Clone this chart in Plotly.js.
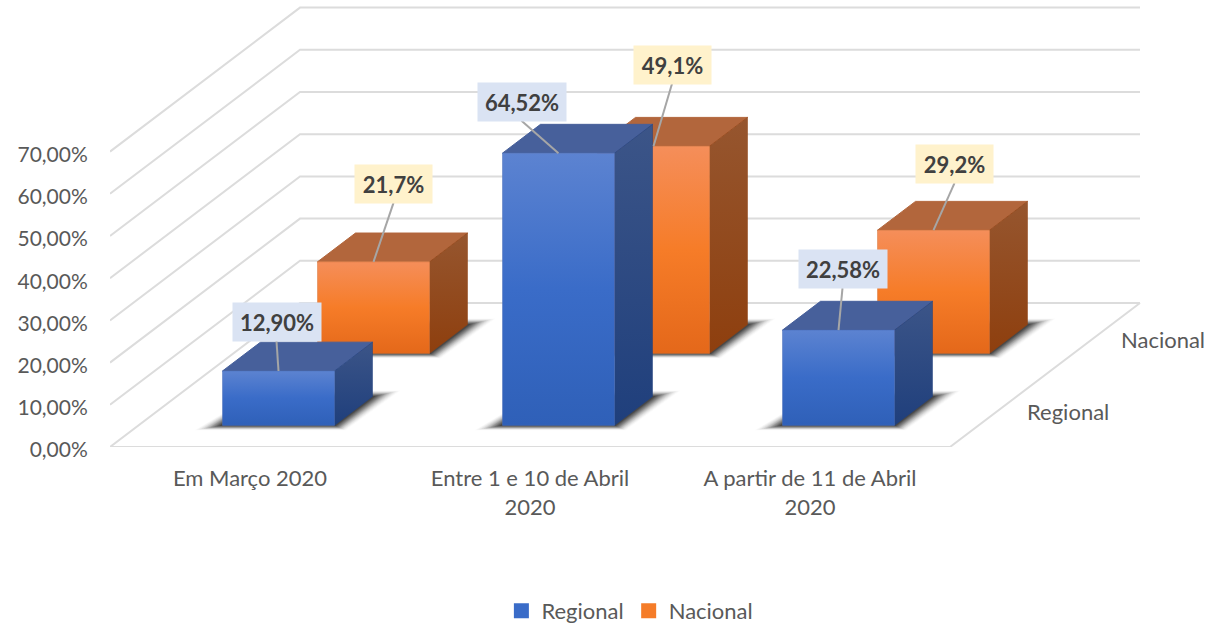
<!DOCTYPE html>
<html><head><meta charset="utf-8">
<script src="https://cdn.plot.ly/plotly-3.0.1.min.js"></script>
<style>html,body{margin:0;padding:0;background:#fff;overflow:hidden}#c{width:1216px;height:625px}</style>
</head><body><div id="c"></div>
<script>
// ---- data ----
const categories = ['Em Março 2020', 'Entre 1 e 10 de Abril<br>2020', 'A partir de 11 de Abril<br>2020'];
const regionalValues = [12.90, 64.52, 22.58];
const nacionalValues = [21.7, 49.1, 29.2];
const regionalLabels = ['12,90%', '64,52%', '22,58%'];
const nacionalLabels = ['21,7%', '49,1%', '29,2%'];
const seriesNames = ['Regional', 'Nacional'];
const yTickValues = [0, 10, 20, 30, 40, 50, 60, 70];
const yTickLabels = ['0,00%', '10,00%', '20,00%', '30,00%', '40,00%', '50,00%', '60,00%', '70,00%'];

// ---- oblique projection (axis units) ----
const W = 1216, H = 625, L = 110, FLOOR = 447;
const PX_X = 280, PX_Y = 4.22;               // px per category, px per percent
const DX = 95 / PX_X, DY = 72 / PX_Y;        // shift per depth row
const BAR = 0.4, FRONT = 0.3, BACK = 0.7;    // bar width and depth span
const P = (c, v, d) => [c + d * DX, v + d * DY];
const px = n => n / PX_X, py = n => n / PX_Y;
const FONT = 'Lato, Carlito, sans-serif';

const styles = [
  { front: ['#5c83d1', '#3a6cc8', '#2f60b8'], side: ['#3c5588', '#1f3f7c'], top: '#47609b', edge: '#4a6fb8',
    box: '#dae3f3', offs: [[-2, -49], [-37, -51.5], [4, -61]] },
  { front: ['#f58e5a', '#f67c28', '#e4681a'], side: ['#96562f', '#8e3f0e'], top: '#b2663c', edge: '#d9773a',
    box: '#fff2cc', offs: [[20, -78], [18.5, -81.5], [21, -66]] }
];

const traces = [];
function poly(pts, extra) {
  traces.push(Object.assign({
    type: 'scatter', mode: 'lines', x: pts.map(p => p[0]).concat(pts[0][0]), y: pts.map(p => p[1]).concat(pts[0][1]),
    fill: 'toself', hoverinfo: 'skip', showlegend: false, cliponaxis: false
  }, extra));
}
function grad(cols) {
  const n = cols.length - 1;
  return { type: 'vertical', colorscale: cols.slice().reverse().map((c, i) => [i / n, c]) };
}

// walls and floor
const gx = [], gy = [];
function seg(pts) { pts.forEach(p => { gx.push(p[0]); gy.push(p[1]); }); gx.push(null); gy.push(null); }
yTickValues.forEach(v => seg([P(-0.5, v, 0), P(-0.5, v, 2), P(2.5, v, 2)]));
seg([P(-0.5, 0, 0), P(2.5, 0, 0), P(2.5, 0, 2)]);
traces.push({ type: 'scatter', mode: 'lines', x: gx, y: gy, line: { color: '#dcdcdc', width: 2 }, hoverinfo: 'skip', showlegend: false, cliponaxis: false });

function bar(c, row, val, st) {
  const c0 = c - BAR / 2, c1 = c + BAR / 2, d0 = row + FRONT, d1 = row + BACK;
  // floor shadow: nested soft layers, lighter toward the outside
  const layers = [[1, .02], [.92, .03], [.84, .04], [.76, .05], [.68, .07], [.6, .08], [.52, .1], [.44, .12], [.36, .13], [.28, .15], [.2, .17], [.12, .2]];
  layers.forEach(l => {
    const t = l[0], a = px(28 * t), b = py(6 * t);
    const q = (cc, dd, ox, oy) => { const p = P(cc, 0, dd); return [p[0] + ox, p[1] + oy]; };
    poly([q(c0, d0, -a, -b * 0.8), q(c1, d0, a * 0.4, -b * 0.8), q(c1, d1, a, b), q(c0, d1, 0, b)],
      { line: { width: 0 }, fillcolor: 'rgba(0,0,0,' + l[1] + ')' });
  });
  poly([P(c0, val, d0), P(c0, val, d1), P(c1, val, d1), P(c1, val, d0)],
    { line: { color: st.top, width: 1 }, fillcolor: st.top });
  poly([P(c1, 0, d0), P(c1, val, d0), P(c1, val, d1), P(c1, 0, d1)],
    { line: { color: st.side[1], width: 0.5 }, fillgradient: grad(st.side) });
  poly([P(c0, 0, d0), P(c0, val, d0), P(c1, val, d0), P(c1, 0, d0)],
    { line: { color: st.edge, width: 0.5 }, fillgradient: grad(st.front) });
}
nacionalValues.forEach((v, i) => bar(i, 1, v, styles[1]));
regionalValues.forEach((v, i) => bar(i, 0, v, styles[0]));

// leaders and data labels
const annotations = [];
function labels(vals, texts, row, st) {
  vals.forEach((v, i) => {
    const a = P(i, v, row + FRONT);
    const lx = a[0] + px(st.offs[i][0]), ly = a[1] - py(st.offs[i][1]);
    traces.push({ type: 'scatter', mode: 'lines', x: [a[0], lx], y: [a[1], ly - py(19)],
      line: { color: '#a6a6a6', width: 2 }, hoverinfo: 'skip', showlegend: false, cliponaxis: false });
    annotations.push({ x: lx, y: ly, xref: 'x', yref: 'y', text: '<b>' + texts[i] + '</b>', showarrow: false,
      bgcolor: st.box, font: { family: FONT, size: 22, color: '#404040' },
      width: texts[i].length === 6 ? 88 : 77, height: 38, align: 'center', valign: 'middle', borderpad: 0 });
  });
}
labels(nacionalValues, nacionalLabels, 1, styles[1]);
labels(regionalValues, regionalLabels, 0, styles[0]);

// depth axis labels
seriesNames.forEach((n, k) => {
  const p = P(2.5, 0, k + 0.5);
  annotations.push({ x: p[0], y: p[1], xref: 'x', yref: 'y', xshift: 70, text: n, showarrow: false,
    font: { family: FONT, size: 22, color: '#595959' } });
});

// legend entries
[['#3a6cc8', seriesNames[0]], ['#f57c28', seriesNames[1]]].forEach(s => {
  traces.push({ type: 'scatter', mode: 'markers', x: [null], y: [null], name: s[1], hoverinfo: 'skip',
    marker: { symbol: 'square', size: 15, color: s[0] } });
});

const layout = {
  width: W, height: H, paper_bgcolor: '#fff', plot_bgcolor: 'rgba(0,0,0,0)',
  margin: { l: L, r: 0, t: 0, b: H - FLOOR, pad: 0 }, autosize: false,
  font: { family: FONT, size: 22, color: '#595959' },
  xaxis: { range: [-0.5, -0.5 + (W - L) / PX_X], tickmode: 'array', tickvals: [0, 1, 2], ticktext: categories,
    showgrid: false, zeroline: false, showline: false, ticks: 'outside', ticklen: 12, tickcolor: 'rgba(0,0,0,0)',
    tickfont: { family: FONT, size: 22, color: '#595959' } },
  yaxis: { range: [0, FLOOR / PX_Y], tickmode: 'array', tickvals: yTickValues, ticktext: yTickLabels,
    showgrid: false, zeroline: false, showline: false, ticks: 'outside', ticklen: 17, tickcolor: 'rgba(0,0,0,0)',
    ticklabelshift: 3,
    tickfont: { family: FONT, size: 21, color: '#595959' } },
  legend: { orientation: 'h', x: 0.518, xref: 'container', xanchor: 'center', y: 0.0224, yref: 'container', yanchor: 'middle',
    font: { family: FONT, size: 22, color: '#595959' }, bgcolor: 'rgba(0,0,0,0)', itemclick: false, itemdoubleclick: false },
  annotations: annotations
};
Plotly.newPlot('c', traces, layout, { displayModeBar: false, staticPlot: true });
</script></body></html>
